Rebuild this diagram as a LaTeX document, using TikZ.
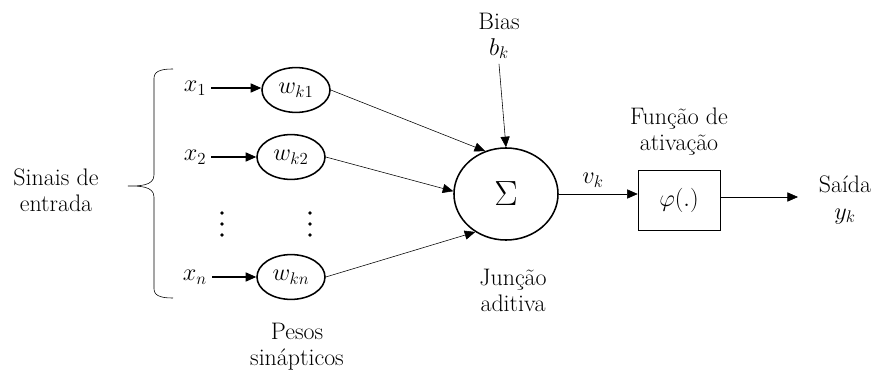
\documentclass[tikz,border=0pt]{standalone}
\usepackage{amsmath,amssymb}
\usepackage{fontspec}
\usetikzlibrary{arrows.meta,positioning,shapes.geometric}

\begin{document}
\begin{tikzpicture}[x=0.025cm,y=-0.025cm,>={Triangle[length=7.5pt,width=6.5pt]},
  font=\fontsize{17}{18.5}\selectfont]
  \tikzset{peso/.style={draw,ellipse,line width=1.1pt,inner sep=0pt,minimum width=1.7cm,minimum height=1.12cm},
    seta/.style={->,line width=0.8pt}}
  \useasboundingbox (0,0) rectangle (877,374);
  % entradas e pesos
  \node[align=center] (sinais) at (56,190) {Sinais de\\entrada};
  \draw (173,69) to[out=180,in=90] (154,78) -- (154,175) to[out=270,in=0] (128,186)
    to[out=0,in=90] (154,197) -- (154,289) to[out=270,in=180] (173,298);
  \node (x1) at (195,88) {$x_1$};
  \node (x2) at (195,157) {$x_2$};
  \node (xn) at (195,277) {$x_n$};
  \node[peso] (w1) at (296,90) {$w_{k1}$};
  \node[peso] (w2) at (291,157) {$w_{k2}$};
  \node[peso] (wn) at (291,277) {$w_{kn}$};
  \foreach \px in {222,310}
    \foreach \py in {213,224,235}
      \fill (\px,\py) circle (1.3pt);
  \draw[seta] (x1.east) -- (x1.east -| w1.west);
  \draw[seta] (x2.east) -- (x2.east -| w2.west);
  \draw[seta] (xn.east) -- (xn.east -| wn.west);
  \node[align=center] (pesos) at (297,347) {Pesos\\sinápticos};
  % somador
  \node[draw,ellipse,line width=1.1pt,minimum width=2.6cm,minimum height=2.3cm,
    font=\fontsize{24}{24}\selectfont] (sum) at (506,194) {$\Sigma$};
  \draw[->] (w1.east) -- (sum.116);
  \draw[->] (w2.east) -- (sum.177);
  \draw[->] (wn.east) -- (sum.231);
  \node[align=center] (bias) at (499,36) {Bias\\$b_k$};
  \draw[->] (bias.south) -- (sum.north);
  \node[align=center] (juncao) at (513,290) {Junção\\aditiva};
  % ativacao e saida
  \node[draw,minimum width=2.05cm,minimum height=1.5cm] (phi) at (679,200) {$\varphi(.)$};
  \node[align=center] (funcao) at (679,132) {Função de\\ativação};
  \node (vk) at (593,180) {$v_k$};
  \draw[->] (sum.east) -- (sum.east -| phi.west);
  \coordinate (out) at (798,197);
  \draw[->] (phi.east |- out) -- (out);
  \node[align=center] (saida) at (845,200) {Saída\\$y_k$};
\end{tikzpicture}
\end{document}
